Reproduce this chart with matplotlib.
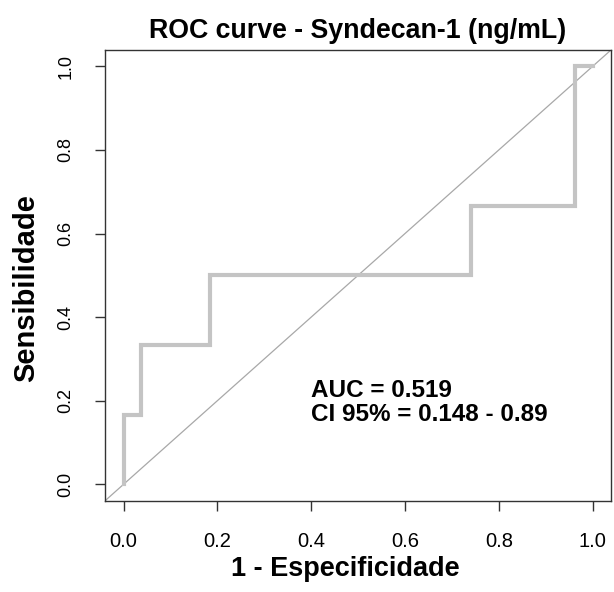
import numpy as np
import matplotlib
matplotlib.use("Agg")
import matplotlib.pyplot as plt

plt.rcParams['font.family'] = ['Liberation Sans', 'DejaVu Sans']

# ROC points (1 - especificidade, sensibilidade)
fpr = [0.0, 0.0, 1/27, 1/27, 5/27, 5/27, 20/27, 20/27, 26/27, 26/27, 1.0]
tpr = [0.0, 1/6, 1/6, 2/6, 2/6, 3/6, 3/6, 4/6, 4/6, 1.0, 1.0]
ticks = [0.0, 0.2, 0.4, 0.6, 0.8, 1.0]
tick_labels = ["0.0", "0.2", "0.4", "0.6", "0.8", "1.0"]
auc_text = "AUC = 0.519\nCI 95% = 0.148 - 0.89"

fig = plt.figure(figsize=(6.14, 5.92), dpi=100)
ax = fig.add_axes([0.1707, 0.1537, 0.9958 - 0.1707, 0.9162 - 0.1537])

ax.axline((0, 0), (1, 1), color="#a8a8a8", lw=0.9, zorder=1)
ax.plot(fpr, tpr, color="#c4c4c4", lw=3.0, solid_joinstyle="miter", zorder=2)

ax.set_xlim(-0.04, 1.04)
ax.set_ylim(-0.04, 1.04)
ax.set_xticks(ticks)
ax.set_xticklabels(tick_labels)
ax.set_yticks(ticks)
ax.set_yticklabels(tick_labels, rotation=90, va="center")
ax.tick_params(direction="out", length=7, width=1, color="#333333")
ax.tick_params(axis="x", labelsize=14.5, pad=15)
ax.tick_params(axis="y", labelsize=13, pad=15)
for s in ax.spines.values():
    s.set_color("#333333")
    s.set_linewidth(1)

ax.set_title("ROC curve - Syndecan-1 (ng/mL)", fontsize=19.3, fontweight="bold", pad=8)
ax.set_xlabel("1 - Especificidade", fontsize=19.5, fontweight="bold", labelpad=4, x=0.474)
ax.set_ylabel("Sensibilidade", fontsize=21, fontweight="bold", labelpad=12, y=0.472)

ax.text(0.40, 0.195, auc_text, fontsize=17.5, fontweight="bold",
        ha="left", va="center", linespacing=1.05)

fig.savefig("out.png", dpi=100)
